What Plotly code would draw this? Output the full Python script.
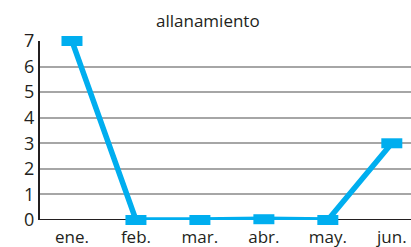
import plotly.graph_objects as go

months = ["ene.", "feb.", "mar.", "abr.", "may.", "jun."]
values = [7, 0, 0, 0.03, 0, 3]
y_ticks = [0, 1, 2, 3, 4, 5, 6, 7]

BLUE = "#00AEEF"
TXT = "#231f20"
FONT = "Open Sans"

fig = go.Figure()
fig.add_trace(go.Scatter(
    x=list(range(len(months))), y=values, mode="lines",
    line=dict(color=BLUE, width=5.5), cliponaxis=False, hoverinfo="skip"))
fig.add_trace(go.Scatter(
    x=list(range(len(months))), y=values, mode="markers",
    marker=dict(symbol="line-ew", size=15, color=BLUE,
                line=dict(color=BLUE, width=10)),
    cliponaxis=False))

fig.update_layout(
    width=411, height=247,
    margin=dict(l=40, r=0, t=41, b=27),
    paper_bgcolor="white", plot_bgcolor="white",
    showlegend=False,
    font=dict(family=FONT, color=TXT),
    annotations=[dict(text="allanamiento", x=0.454, y=1.0, xref="paper", yref="paper",
                      yanchor="bottom", yshift=7, showarrow=False,
                      font=dict(size=17, family=FONT, color=TXT))],
)
fig.update_xaxes(
    range=[-0.5, 5.3], tickmode="array", tickvals=list(range(len(months))),
    ticktext=months, showgrid=False, zeroline=False,
    showline=False, ticks="", ticklabelstandoff=5,
    tickfont=dict(size=17, family=FONT, color=TXT))
fig.update_yaxes(
    range=[0, 7], tickmode="array", tickvals=y_ticks,
    ticktext=[str(v) for v in y_ticks],
    showgrid=True, gridcolor="#a6a6a6", gridwidth=1.5, zeroline=False,
    showline=True, linecolor="#231f20", linewidth=2, ticks="",
    tickfont=dict(size=18, family=FONT, color=TXT))
fig.add_shape(type="line", xref="paper", yref="y", x0=0, x1=1, y0=0, y1=0,
              line=dict(color="#231f20", width=2), layer="below")

fig.write_html("out.html", post_script="document.body.style.margin='0';",
               config={"displayModeBar": False})
